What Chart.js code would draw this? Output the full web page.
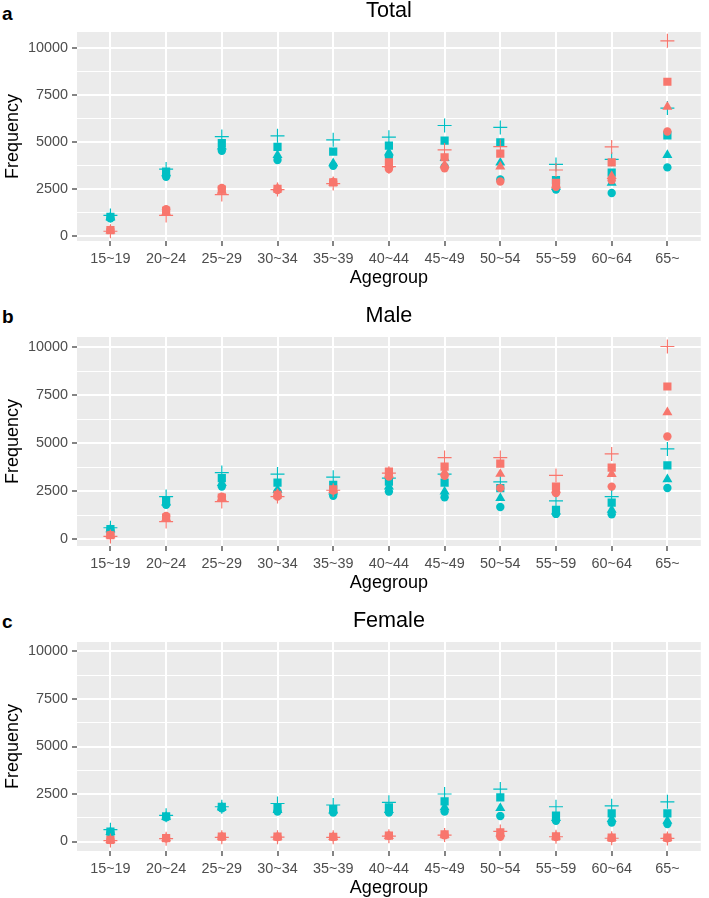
<!DOCTYPE html>
<html>
<head>
<meta charset="utf-8">
<script src="https://cdn.jsdelivr.net/npm/chart.js@4.4.1/dist/chart.umd.min.js"></script>
<style>
  html, body { margin: 0; padding: 0; background: #fff; overflow: hidden; }
  body { width: 709px; height: 898px; position: relative; font-family: "Liberation Sans", Arial, sans-serif; }
  canvas { position: absolute; left: 0; width: 709px; height: 290px; }
  .tag { position: absolute; left: 2px; font-size: 19px; line-height: 19px; font-weight: bold; color: #000; }
</style>
</head>
<body>
<div class="tag" style="top:4px">a</div>
<div class="tag" style="top:307px">b</div>
<div class="tag" style="top:612px">c</div>
<canvas id="chart-total" width="709" height="290" style="top:0px"></canvas>
<canvas id="chart-male" width="709" height="290" style="top:305px"></canvas>
<canvas id="chart-female" width="709" height="290" style="top:610px"></canvas>
<script>
const ageGroups = ["15~19", "20~24", "25~29", "30~34", "35~39", "40~44", "45~49", "50~54", "55~59", "60~64", "65~"];
const yMajor = [0, 2500, 5000, 7500, 10000];
const yMinor = [1250, 3750, 6250, 8750];

// Total (a)
const totalRedCircle   = [330, 1430, 2570, 2450, 2890, 3570, 3610, 2910, 2630, 2980, 5570];
const totalRedTriangle = [300, 1250, 2410, 2540, 2840, 3790, 3790, 3700, 2700, 3200, 6880];
const totalRedSquare   = [320, 1350, 2480, 2520, 2860, 3930, 4200, 4390, 2840, 3930, 8220];
const totalRedCross    = [260, 1100, 2210, 2480, 2800, 3700, 4590, 4770, 3520, 4750, 10400];
const totalTealCircle   = [950, 3160, 4550, 4050, 3750, 4230, 3700, 3020, 2480, 2300, 3660];
const totalTealTriangle = [1000, 3340, 4770, 4320, 3880, 4450, 4150, 3910, 2630, 2840, 4320];
const totalTealSquare   = [1020, 3430, 4950, 4750, 4500, 4820, 5090, 5000, 2980, 3380, 5360];
const totalTealCross    = [1100, 3570, 5300, 5340, 5130, 5270, 5890, 5790, 3820, 4090, 6820];

// Male (b)
const maleRedCircle   = [230, 1215, 2220, 2220, 2530, 3260, 3300, 2660, 2400, 2740, 5350];
const maleRedTriangle = [200, 1090, 2140, 2360, 2570, 3350, 3470, 3400, 2570, 3390, 6610];
const maleRedSquare   = [210, 1130, 2170, 2310, 2600, 3520, 3780, 3940, 2740, 3730, 7950];
const maleRedCross    = [150, 920, 1960, 2220, 2550, 3440, 4250, 4250, 3320, 4440, 10030];
const maleTealCircle   = [480, 1790, 2740, 2480, 2260, 2480, 2190, 1680, 1320, 1300, 2670];
const maleTealTriangle = [520, 1910, 2920, 2570, 2480, 2740, 2480, 2140, 1440, 1530, 3120];
const maleTealSquare   = [530, 2010, 3180, 2950, 2830, 3000, 2950, 2660, 1530, 1910, 3840];
const maleTealCross    = [600, 2220, 3470, 3390, 3230, 3180, 3390, 2990, 2000, 2220, 4700];

// Female (c)
const femaleRedCircle   = [80, 170, 250, 240, 240, 300, 330, 250, 240, 180, 170];
const femaleRedTriangle = [70, 160, 240, 250, 230, 290, 350, 420, 260, 190, 180];
const femaleRedSquare   = [90, 180, 260, 260, 250, 310, 380, 480, 270, 200, 200];
const femaleRedCross    = [50, 150, 220, 230, 220, 280, 340, 530, 250, 170, 160];
const femaleTealCircle   = [480, 1270, 1750, 1580, 1530, 1530, 1580, 1340, 1090, 1000, 920];
const femaleTealTriangle = [500, 1300, 1800, 1650, 1620, 1650, 1800, 1760, 1230, 1180, 1090];
const femaleTealSquare   = [520, 1330, 1820, 1800, 1710, 1800, 2110, 2320, 1360, 1480, 1480];
const femaleTealCross    = [620, 1380, 1830, 2000, 1920, 2060, 2500, 2760, 1830, 1880, 2090];

const red = "#F8766D";
const teal = "#00BFC4";
const shapes = ["circle", "triangle", "rect", "cross"];
const shapeNames = ["circle", "triangle", "square", "cross"];
const radii = [4.2, 5.8, 5.8, 7];

Chart.defaults.font.family = "'Liberation Sans', Arial, sans-serif";

const panelBg = {
  id: "panelBg",
  beforeDraw(chart) {
    const { ctx, chartArea } = chart;
    ctx.save();
    ctx.fillStyle = "#EBEBEB";
    ctx.fillRect(chartArea.left, chartArea.top, chartArea.right - chartArea.left, chartArea.bottom - chartArea.top);
    ctx.restore();
  }
};

function makeSet(label, values, color, k) {
  return {
    label: label + " " + shapeNames[k],
    data: values.map((v, i) => ({ x: i + 1, y: v })),
    pointStyle: shapes[k],
    pointRadius: radii[k],
    pointHoverRadius: radii[k],
    backgroundColor: color,
    borderColor: color,
    borderWidth: shapes[k] === "cross" ? 1.2 : 0
  };
}

function makeChart(id, title, redSeries, tealSeries, yMin, yMax) {
  const datasets = [];
  redSeries.forEach((s, k) => datasets.push(makeSet("red", s, red, k)));
  tealSeries.forEach((s, k) => datasets.push(makeSet("teal", s, teal, k)));

  const isMajor = v => v % 2500 === 0;

  new Chart(document.getElementById(id), {
    type: "scatter",
    data: { datasets: datasets },
    options: {
      responsive: false,
      animation: false,
      layout: { padding: { left: 0, right: 1, top: 0, bottom: 0 } },
      plugins: {
        legend: { display: false },
        tooltip: { enabled: false },
        title: {
          display: true,
          text: title,
          fullSize: false,
          color: "#000",
          font: { size: 21.6, weight: "normal", lineHeight: 1 },
          padding: { top: 0, bottom: 10.4 }
        }
      },
      scales: {
        x: {
          type: "linear",
          min: 0.4,
          max: 11.6,
          afterBuildTicks: s => { s.ticks = ageGroups.map((g, i) => ({ value: i + 1 })); },
          afterFit: s => { s.height = 49; },
          ticks: {
            autoSkip: false,
            maxRotation: 0,
            padding: 4,
            color: "#4D4D4D",
            font: { size: 14.4 },
            callback: v => ageGroups[v - 1]
          },
          grid: { color: "#FFFFFF", lineWidth: 2, tickColor: "#333333", tickLength: 5, tickWidth: 1.2 },
          border: { display: false },
          title: {
            display: true,
            text: "Agegroup",
            color: "#000",
            font: { size: 18, lineHeight: 1 },
            padding: { top: 0, bottom: 2.7 }
          }
        },
        y: {
          min: yMin,
          max: yMax,
          afterBuildTicks: s => {
            s.ticks = yMajor.concat(yMinor).sort((a, b) => a - b).map(v => ({ value: v }));
          },
          afterFit: s => { s.width = 77; },
          ticks: {
            autoSkip: false,
            padding: 4,
            color: "#4D4D4D",
            font: { size: 14.4 },
            callback: v => isMajor(v) ? String(v) : ""
          },
          grid: {
            color: "#FFFFFF",
            lineWidth: c => (c.tick && isMajor(c.tick.value)) ? 2 : 1,
            tickColor: c => (c.tick && isMajor(c.tick.value)) ? "#333333" : "rgba(0,0,0,0)",
            tickLength: 5,
            tickWidth: 1.2
          },
          border: { display: false },
          title: {
            display: true,
            text: "Frequency",
            color: "#000",
            font: { size: 18, lineHeight: 1 },
            padding: { top: 4.3, bottom: 0 }
          }
        }
      }
    },
    plugins: [panelBg]
  });
}

makeChart("chart-total", "Total",
  [totalRedCircle, totalRedTriangle, totalRedSquare, totalRedCross],
  [totalTealCircle, totalTealTriangle, totalTealSquare, totalTealCross],
  -260, 10870);

makeChart("chart-male", "Male",
  [maleRedCircle, maleRedTriangle, maleRedSquare, maleRedCross],
  [maleTealCircle, maleTealTriangle, maleTealSquare, maleTealCross],
  -350, 10525);

makeChart("chart-female", "Female",
  [femaleRedCircle, femaleRedTriangle, femaleRedSquare, femaleRedCross],
  [femaleTealCircle, femaleTealTriangle, femaleTealSquare, femaleTealCross],
  -500, 10500);
</script>
</body>
</html>
